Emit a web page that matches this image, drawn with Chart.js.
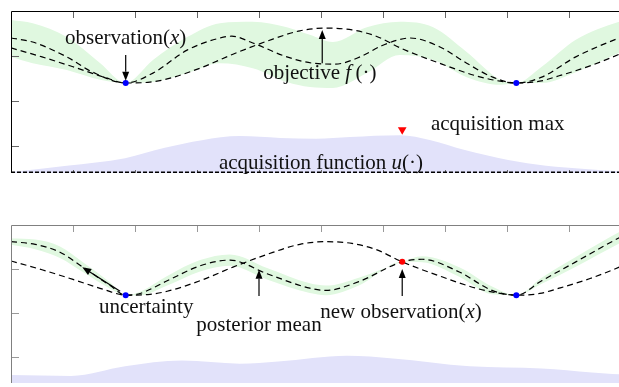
<!DOCTYPE html>
<html>
<head>
<meta charset="utf-8">
<script src="https://cdn.jsdelivr.net/npm/chart.js@4"></script>
<style>
  html, body { margin: 0; padding: 0; background: #fff; overflow: hidden; }
  #wrap { position: relative; width: 619px; height: 387px; overflow: hidden; }
  canvas { position: absolute; left: 0; }
  #top { top: 0; width: 640px; height: 180px; }
  #bottom { top: 214px; width: 640px; height: 173px; }
</style>
</head>
<body>
<div id="wrap">
  <canvas id="top" width="640" height="180"></canvas>
  <canvas id="bottom" width="640" height="173"></canvas>
</div>
<script>
// objective f(.) - same in both panels
const objX = [0, 0.5, 1, 1.5, 1.85, 2.24, 2.52, 3.05, 3.58, 4.13, 4.66, 5.08, 5.5, 5.89, 6.31, 6.95, 7.5, 7.89, 8.15, 8.53, 8.84, 9.34, 9.81, 10];
const objY = [2.18, 1.98, 1.76, 1.53, 1.40, 1.42, 1.49, 1.73, 2.04, 2.33, 2.56, 2.62, 2.58, 2.44, 2.16, 1.82, 1.56, 1.44, 1.40, 1.44, 1.56, 1.78, 2.04, 2.16];

// top panel: posterior mean, uncertainty band, acquisition
const meanX = [0, 0.35, 0.9, 1.32, 1.85, 2.29, 2.84, 3.37, 3.56, 3.9, 4.45, 4.87, 5.23, 5.63, 6.0, 6.44, 6.92, 7.35, 7.77, 8.15, 8.56, 9.11, 9.81, 10];
const meanY = [2.40, 2.31, 1.98, 1.64, 1.40, 1.62, 2.13, 2.40, 2.44, 2.29, 1.98, 1.84, 1.82, 1.98, 2.24, 2.40, 2.20, 1.84, 1.53, 1.40, 1.53, 1.98, 2.40, 2.49];
const bandX = [0, 0.35, 0.9, 1.44, 1.85, 2.29, 2.84, 3.37, 3.9, 4.45, 4.82, 5.19, 5.74, 6.27, 6.81, 7.35, 7.89, 8.15, 8.56, 9.11, 9.81, 10];
const bandHi = [2.80, 2.73, 2.42, 1.84, 1.40, 1.91, 2.42, 2.73, 2.76, 2.64, 2.47, 2.31, 2.64, 2.76, 2.64, 2.09, 1.47, 1.40, 1.76, 2.36, 2.76, 2.82];
const bandLo = [1.98, 1.84, 1.69, 1.47, 1.40, 1.42, 1.62, 1.84, 1.73, 1.42, 1.31, 1.29, 1.62, 2.02, 1.91, 1.53, 1.36, 1.40, 1.40, 1.64, 2.07, 2.18];
const acqX = [0, 0.9, 1.84, 2.48, 3.08, 3.69, 4.34, 4.92, 5.47, 6.27, 6.77, 7.32, 8.02, 8.63, 9.26, 9.81, 10];
const acqY = [-0.58, -0.44, -0.27, -0.04, 0.13, 0.22, 0.18, 0.16, 0.20, 0.24, 0.13, -0.09, -0.31, -0.44, -0.51, -0.56, -0.58];

// bottom panel
const mean2X = [0, 0.39, 0.79, 1.16, 1.6, 1.85, 2.08, 2.52, 3.05, 3.53, 4.13, 4.82, 5.08, 5.61, 6.31, 6.63, 7.23, 7.76, 8.15, 8.56, 9.11, 9.81, 10];
const mean2Y = [2.62, 2.56, 2.38, 2.04, 1.62, 1.40, 1.44, 1.73, 2.07, 2.20, 1.89, 1.56, 1.51, 1.71, 2.16, 2.22, 1.93, 1.51, 1.40, 1.73, 2.16, 2.71, 2.84];
const band2Hi = [2.69, 2.67, 2.51, 2.15, 1.69, 1.40, 1.48, 1.84, 2.20, 2.33, 2.02, 1.67, 1.62, 1.80, 2.16, 2.29, 2.04, 1.60, 1.40, 1.80, 2.27, 2.84, 2.97];
const band2Lo = [2.55, 2.45, 2.25, 1.93, 1.55, 1.40, 1.40, 1.62, 1.94, 2.07, 1.76, 1.45, 1.40, 1.62, 2.16, 2.15, 1.82, 1.42, 1.40, 1.66, 2.05, 2.58, 2.71];
const acq2X = [0, 0.97, 1.84, 2.76, 3.69, 4.31, 5.42, 6.16, 7.4, 8.56, 9.37, 9.81, 10];
const acq2Y = [-0.42, -0.44, -0.22, -0.09, -0.16, -0.11, 0.02, -0.04, -0.22, -0.27, -0.36, -0.40, -0.40];

const obsX = [1.85, 8.15];
const obsY = [1.40, 1.40];
const newObsX = [6.31];
const newObsY = [2.16];
const acqMaxX = [6.31];
const acqMaxY = [0.36];

const xTicks = [1, 2, 3, 4, 5, 6, 7, 8, 9];
const yTicks = [0, 1, 2];

const pts = (xs, ys) => xs.map((x, i) => ({ x: x, y: ys[i] }));

const FONT = '"Liberation Serif", "DejaVu Serif", serif';

function drawRuns(ctx, runs, cx, cy, size) {
    let w = 0;
    runs.forEach(r => {
        ctx.font = (r[1] ? 'italic ' : '') + size + 'px ' + FONT;
        w += ctx.measureText(r[0]).width;
    });
    let x = cx - w / 2;
    ctx.textBaseline = 'middle';
    ctx.textAlign = 'left';
    runs.forEach(r => {
        ctx.font = (r[1] ? 'italic ' : '') + size + 'px ' + FONT;
        ctx.fillText(r[0], x, cy);
        x += ctx.measureText(r[0]).width;
    });
}

function drawArrow(ctx, x1, y1, x2, y2) {
    const ang = Math.atan2(y2 - y1, x2 - x1);
    const hl = 9, hw = 3.5;
    const bx = x2 - hl * Math.cos(ang), by = y2 - hl * Math.sin(ang);
    ctx.beginPath();
    ctx.moveTo(x1, y1);
    ctx.lineTo(bx, by);
    ctx.stroke();
    ctx.beginPath();
    ctx.moveTo(x2, y2);
    ctx.lineTo(bx + hw * Math.sin(ang), by - hw * Math.cos(ang));
    ctx.lineTo(bx - hw * Math.sin(ang), by + hw * Math.cos(ang));
    ctx.closePath();
    ctx.fill();
}

const framePlugin = {
    id: 'frame',
    afterDraw(chart, args, opts) {
        const { ctx, chartArea: a } = chart;
        const xs = chart.scales.x, ys = chart.scales.y;
        ctx.save();
        ctx.lineWidth = 1;
        // ticks
        ctx.strokeStyle = opts.tickColor;
        ctx.beginPath();
        xTicks.forEach(v => {
            const px = Math.round(xs.getPixelForValue(v)) + 0.5;
            ctx.moveTo(px, a.top);
            ctx.lineTo(px, a.top + 7);
            if (opts.bottomDash) {
                ctx.moveTo(px, a.bottom);
                ctx.lineTo(px, a.bottom - 3);
            }
        });
        yTicks.forEach(v => {
            const py = Math.round(ys.getPixelForValue(v)) + 0.5;
            ctx.moveTo(a.left, py);
            ctx.lineTo(a.left + 8, py);
        });
        ctx.stroke();
        // frame
        ctx.strokeStyle = opts.color;
        ctx.beginPath();
        ctx.moveTo(a.left + 0.5, a.bottom);
        ctx.lineTo(a.left + 0.5, a.top + 0.5);
        ctx.lineTo(a.right, a.top + 0.5);
        ctx.stroke();
        if (opts.bottomDash) {
            ctx.strokeStyle = '#000';
            ctx.lineWidth = 1.5;
            ctx.setLineDash([4, 2]);
            ctx.beginPath();
            ctx.moveTo(a.left, a.bottom - 0.75);
            ctx.lineTo(a.right, a.bottom - 0.75);
            ctx.stroke();
            ctx.setLineDash([]);
        }
        // arrows
        ctx.strokeStyle = '#000';
        ctx.fillStyle = '#000';
        ctx.lineWidth = 1.2;
        (opts.arrows || []).forEach(ar => {
            drawArrow(ctx, xs.getPixelForValue(ar[0]), ys.getPixelForValue(ar[1]),
                xs.getPixelForValue(ar[2]), ys.getPixelForValue(ar[3]));
        });
        // labels
        ctx.fillStyle = '#111';
        (opts.labels || []).forEach(lb => {
            drawRuns(ctx, lb.runs, xs.getPixelForValue(lb.x), ys.getPixelForValue(lb.y), 21);
        });
        ctx.restore();
    }
};

function lineDs(data, extra) {
    return Object.assign({
        data: data,
        borderColor: '#000',
        borderWidth: 1.2,
        borderDash: [6, 4],
        pointRadius: 0,
        fill: false,
        cubicInterpolationMode: 'monotone'
    }, extra || {});
}

function makePanel(id, datasets, frameOpts, pad) {
    return new Chart(document.getElementById(id), {
        type: 'line',
        data: { datasets: datasets },
        options: {
            responsive: false,
            animation: false,
            events: [],
            devicePixelRatio: 1,
            layout: { padding: pad },
            scales: {
                x: { type: 'linear', min: 0, max: 10, display: false },
                y: { type: 'linear', min: -0.6, max: 3, display: false }
            },
            plugins: {
                legend: { display: false },
                tooltip: { enabled: false },
                frame: frameOpts
            }
        },
        plugins: [framePlugin]
    });
}

const bandColor = '#e0f8e0';
const acqColor = '#e2e2fa';

makePanel('top', [
    { data: pts(obsX, obsY), showLine: false, pointRadius: 3, pointBackgroundColor: '#0000ff', pointBorderWidth: 0 },
    { data: pts(acqMaxX, acqMaxY), showLine: false, pointStyle: 'triangle', rotation: 180, pointRadius: 5, pointBackgroundColor: '#ff0000', pointBorderWidth: 0 },
    lineDs(pts(objX, objY)),
    lineDs(pts(meanX, meanY)),
    { data: pts(bandX, bandHi), borderWidth: 0, pointRadius: 0, fill: '+1', backgroundColor: bandColor, cubicInterpolationMode: 'monotone' },
    { data: pts(bandX, bandLo), borderWidth: 0, pointRadius: 0, fill: false, cubicInterpolationMode: 'monotone' },
    { data: pts(acqX, acqY), borderWidth: 0, pointRadius: 0, fill: 'start', backgroundColor: acqColor, cubicInterpolationMode: 'monotone' }
], {
    color: '#000',
    tickColor: '#666',
    bottomDash: true,
    arrows: [
        [1.85, 2.02, 1.85, 1.45],
        [5.02, 1.84, 5.02, 2.58]
    ],
    labels: [
        { x: 1.85, y: 2.40, runs: [['observation(', false], ['x', true], [')', false]] },
        { x: 4.98, y: 1.62, runs: [['objective ', false], ['f', true], ['\u2009(\u00b7)', false]] },
        { x: 7.85, y: 0.47, runs: [['acquisition max', false]] },
        { x: 5.0, y: -0.38, runs: [['acquisition function ', false], ['u', true], ['(\u00b7)', false]] }
    ]
}, { left: 11, top: 11, right: 9, bottom: 7 });

makePanel('bottom', [
    { data: pts(obsX, obsY), showLine: false, pointRadius: 3, pointBackgroundColor: '#0000ff', pointBorderWidth: 0 },
    { data: pts(newObsX, newObsY), showLine: false, pointRadius: 3, pointBackgroundColor: '#ff0000', pointBorderWidth: 0 },
    lineDs(pts(objX, objY)),
    lineDs(pts(mean2X, mean2Y)),
    { data: pts(mean2X, band2Hi), borderWidth: 0, pointRadius: 0, fill: '+1', backgroundColor: bandColor, cubicInterpolationMode: 'monotone' },
    { data: pts(mean2X, band2Lo), borderWidth: 0, pointRadius: 0, fill: false, cubicInterpolationMode: 'monotone' },
    { data: pts(acq2X, acq2Y), borderWidth: 0, pointRadius: 0, fill: 'start', backgroundColor: acqColor, cubicInterpolationMode: 'monotone' }
], {
    color: '#808080',
    tickColor: '#999',
    bottomDash: false,
    arrows: [
        [1.76, 1.49, 1.15, 2.04],
        [4.0, 1.38, 4.0, 1.98],
        [6.31, 1.38, 6.31, 2.0]
    ],
    labels: [
        { x: 2.18, y: 1.11, runs: [['uncertainty', false]] },
        { x: 4.0, y: 0.71, runs: [['posterior mean', false]] },
        { x: 6.29, y: 1.0, runs: [['new observation(', false], ['x', true], [')', false]] }
    ]
}, { left: 11, top: 11, right: 9, bottom: 0 });
</script>
</body>
</html>
